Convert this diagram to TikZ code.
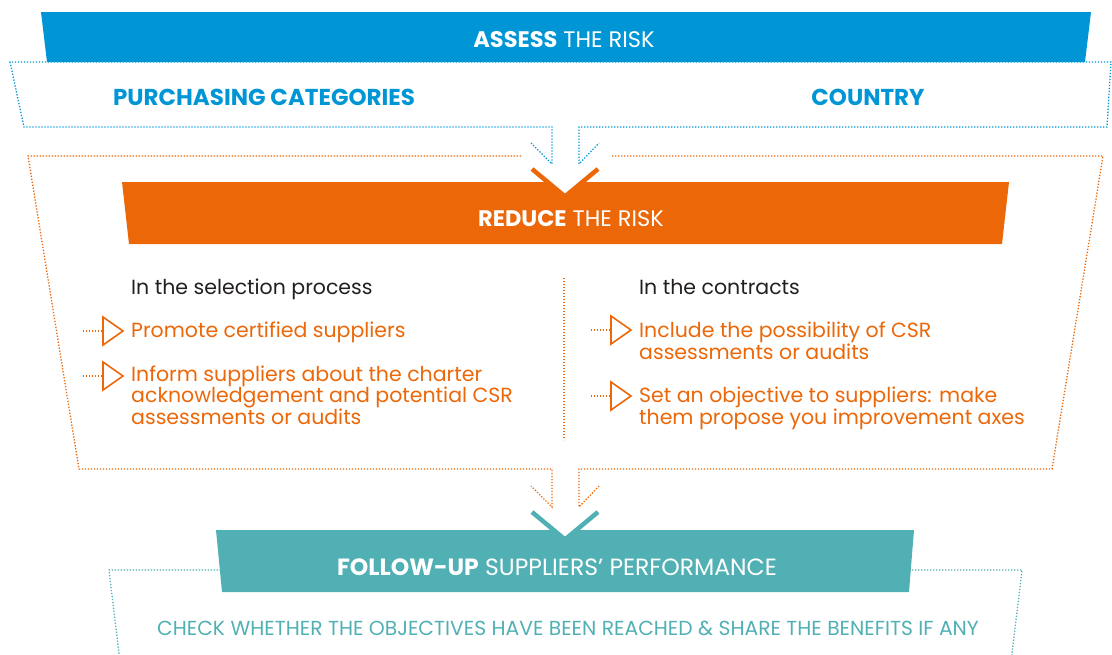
\documentclass[tikz,border=0pt]{standalone}
\usepackage{fontspec}
\setmainfont{Poppins}
\usetikzlibrary{positioning}
\definecolor{cassess}{RGB}{0,150,214}
\definecolor{creduce}{RGB}{236,103,8}
\definecolor{cfollow}{RGB}{80,176,180}
\definecolor{ctext}{RGB}{35,31,32}

\begin{document}
\begin{tikzpicture}[x=1pt,y=-1pt,
  frame/.style={line width=1.3pt,dash pattern=on 1.3pt off 1.7pt},
  chevron/.style={line width=4.5pt,line join=miter,miter limit=10},
  band/.style={font=\fontsize{22.5}{26}\selectfont,text=white,inner sep=0pt},
  topic/.style={font=\bfseries\fontsize{23}{26}\selectfont,text=cassess,inner sep=0pt},
  head/.style={anchor=base west,font=\fontsize{20.5}{24}\selectfont,text=ctext,inner sep=0pt},
  item/.style={anchor=base west,align=left,font=\fontsize{20.5}{21.5}\selectfont,
               text=creduce,inner sep=0pt},
  checktext/.style={font=\fontsize{20.3}{24}\selectfont,text=cfollow,inner sep=0pt},
  bulletdots/.style={draw=creduce,line width=1.3pt,dash pattern=on 1.3pt off 1.7pt},
  bullettri/.style={draw=creduce,line width=1.6pt,line join=miter}]
\useasboundingbox (0,0) rectangle (1112,654);

% assess the risk
\draw[frame,cassess] (531,143) -- (552,164) -- (552,127) -- (24,127) -- (10,62)
  -- (1111,62) -- (1107,127) -- (579,127) -- (579,164) -- (599,143);
\fill[cassess] (41,12) -- (1091,12) -- (1085,62) -- (47,62) -- cycle;
\node (assess) [band] at (564,40) {\textbf{ASSESS} THE RISK};
\node (categ) [topic] at (264,97) {PURCHASING CATEGORIES};
\node (country) [topic] at (868,97) {COUNTRY};

% reduce the risk
\draw[frame,creduce] (521,156) -- (28,156) -- (79,469) -- (552,469) -- (552,507) -- (531,486);
\draw[frame,creduce] (612,156) -- (1103,156) -- (1052,469) -- (579,469) -- (579,507) -- (599,486);
\fill[creduce] (122,182) -- (1009,182) -- (1002,244) -- (129,244) -- cycle;
\fill[white] (545,180) -- (585,180) -- (565,195) -- cycle;
\draw[chevron,creduce] (532,169) -- (565,196.5) -- (598,169);
\node (reduce) [band] at (571,219) {\textbf{REDUCE} THE RISK};
\draw[frame,creduce] (564,278) -- (564,440);

\node (selhead) [head] at (131,294) {In the selection process};
\coordinate (m1) at (103,331);
\coordinate (m2) at (103,376);
\draw[bulletdots] (m1) ++(-20,0) -- (m1);
\draw[bullettri] (m1) ++(0,-14) -- ++(20,14) -- ++(-20,14) -- cycle;
\draw[bulletdots] (m2) ++(-20,0) -- (m2);
\draw[bullettri] (m2) ++(0,-14) -- ++(20,14) -- ++(-20,14) -- cycle;
\node (promote) [item] at (131,337) {Promote certified suppliers};
\node (inform) [item] at (131,424)
  {Inform suppliers about the charter\\acknowledgement and potential CSR\\assessments or audits};

\node (conhead) [head] at (639,294) {In the contracts};
\coordinate (m3) at (611,330);
\coordinate (m4) at (611,396);
\draw[bulletdots] (m3) ++(-20,0) -- (m3);
\draw[bullettri] (m3) ++(0,-14) -- ++(20,14) -- ++(-20,14) -- cycle;
\draw[bulletdots] (m4) ++(-20,0) -- (m4);
\draw[bullettri] (m4) ++(0,-14) -- ++(20,14) -- ++(-20,14) -- cycle;
\node (include) [item] at (639,359) {Include the possibility of CSR\\assessments or audits};
\node (objective) [item] at (639,424)
  {Set an objective to suppliers: make\\them propose you improvement axes};

% follow-up
\draw[frame,cfollow] (221,570) -- (109,570) -- (120,662);
\draw[frame,cfollow] (909,570) -- (1022,570) -- (1011,662);
\fill[cfollow] (216,530) -- (914,530) -- (909,592) -- (222,592) -- cycle;
\fill[white] (545,523) -- (585,523) -- (565,538) -- cycle;
\draw[chevron,cfollow] (532,512) -- (565,539.5) -- (598,512);
\node (follow) [band,font=\fontsize{23.5}{26}\selectfont] at (557,567)
  {\textbf{FOLLOW-UP} SUPPLIERS’ PERFORMANCE};
\node (check) [checktext] at (568,628)
  {CHECK WHETHER THE OBJECTIVES HAVE BEEN REACHED \& SHARE THE BENEFITS IF ANY};
\end{tikzpicture}
\end{document}
